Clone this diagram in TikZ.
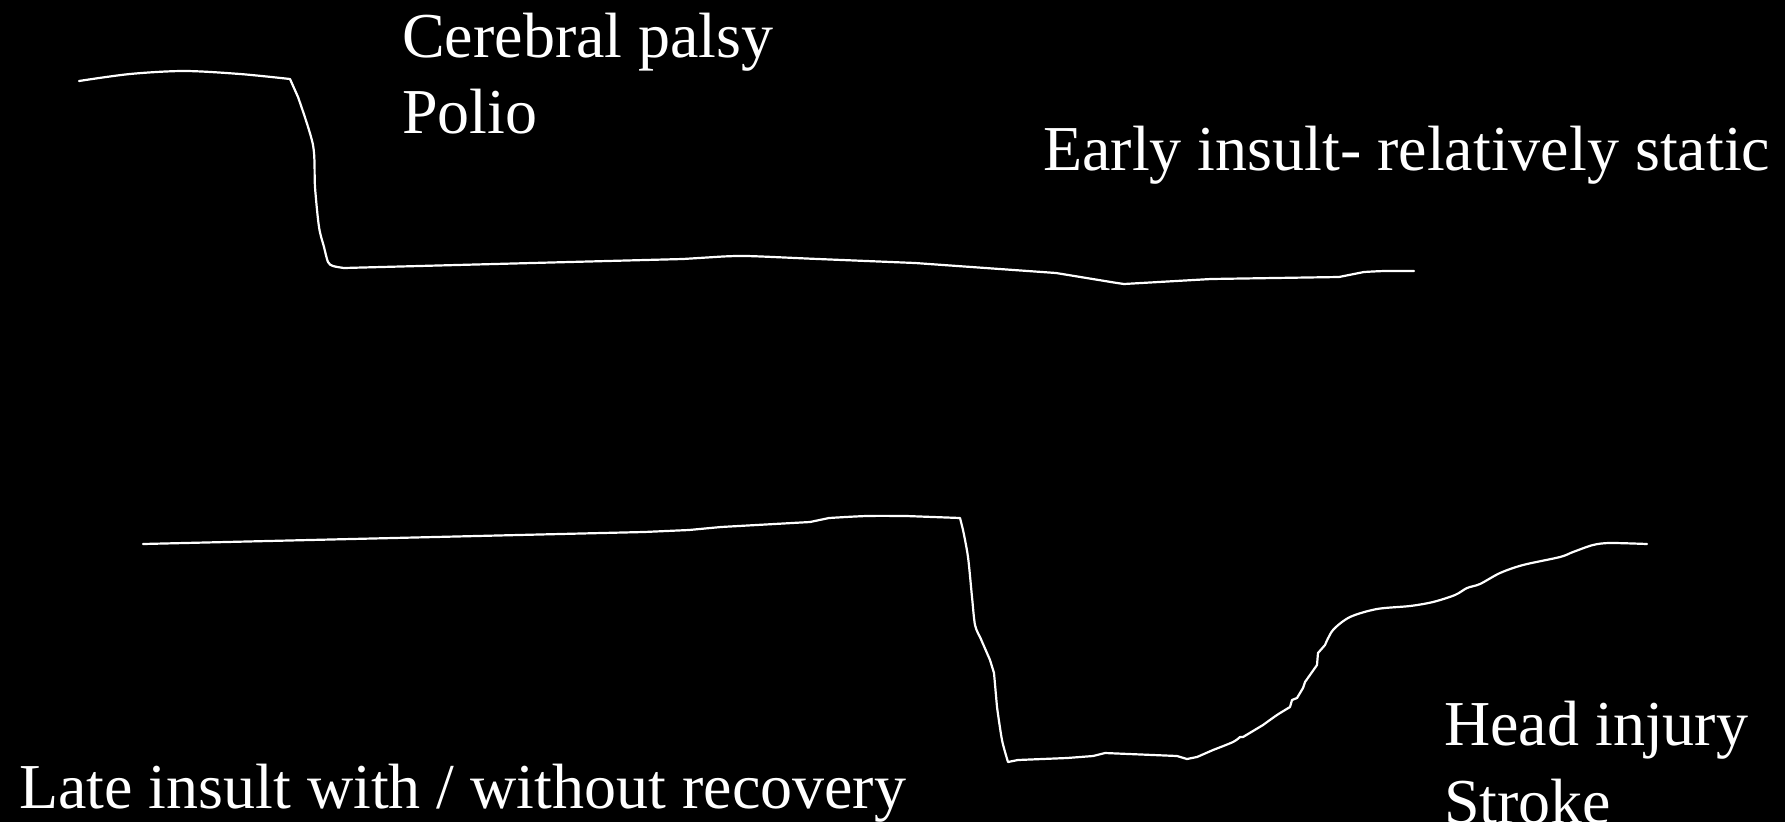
\documentclass[tikz,border=0pt]{standalone}
\usepackage{fontspec}
\setmainfont{Liberation Serif}
\begin{document}
\begin{tikzpicture}[x=1pt,y=-1pt,
  curve/.style={draw=white,line width=2.2pt,line cap=round,line join=round},
  lbl/.style={text=white,anchor=base west,inner sep=0pt,font=\fontsize{64}{76}\selectfont}]
\fill[black] (0,0) rectangle (1785,822);
\useasboundingbox (0,0) rectangle (1785,822);
% top curve: early insult
\draw[curve] plot[smooth,tension=0.5] coordinates {(79,81) (130,74) (184,71) (240,74) (290,79)}
  -- (294,88)
  -- plot[smooth,tension=0.5] coordinates {(298,97) (313,145) (315,187) (319,227) (324,247) (328,262) (333,266) (344,268)}
  -- (683,259)
  -- plot[smooth,tension=0.5] coordinates {(715,257) (746,256) (818,259) (915,263)}
  -- (1056,273) -- (1117,283) -- (1124,284) -- (1211,279) -- (1339,277)
  -- plot[smooth,tension=0.5] coordinates {(1364,272) (1385,271) (1414,271)};
% bottom curve: late insult
\draw[curve] (143,544) -- (644,532)
  -- plot[smooth,tension=0.5] coordinates {(689,530) (721,527)}
  -- (810,522)
  -- plot[smooth,tension=0.5] coordinates {(829,518) (867,516) (906,516)}
  -- (960,518)
  -- plot[smooth,tension=0.5] coordinates {(963,530) (968,557) (972,597) (975,625) (980,637)}
  -- (990,660) -- (994,673)
  -- plot[smooth,tension=0.5] coordinates {(997,707) (1002,740) (1008,762)}
  -- (1018,760) -- (1067,758)
  -- plot[smooth,tension=0.5] coordinates {(1093,756) (1105,753)}
  -- (1177,756) -- (1187,759) -- (1197,757)
  -- plot[smooth,tension=0.5] coordinates {(1213,750) (1233,742) (1240,737)}
  -- (1243,737)
  -- plot[smooth,tension=0.5] coordinates {(1263,725) (1277,715) (1290,707)}
  -- (1292,700) -- (1297,698) -- (1303,688) -- (1305,682) -- (1317,665) -- (1318,653)
  -- plot[smooth,tension=0.5] coordinates {(1325,645) (1333,630) (1350,617) (1377,609) (1410,606) (1433,602) (1455,595) (1467,588) (1480,584) (1500,573) (1523,565) (1560,557) (1573,552) (1593,545) (1610,543) (1647,544)};
% labels
\node[lbl] (cp) at (402,57) {Cerebral palsy};
\node[lbl] (polio) at (402,133) {Polio};
\node[lbl] (early) at (1043,170) {Early insult- relatively static};
\node[lbl] (head) at (1444,745) {Head injury};
\node[lbl] (stroke) at (1444,823) {Stroke};
\node[lbl] (late) at (19,808) {Late insult with / without recovery};
\end{tikzpicture}
\end{document}
